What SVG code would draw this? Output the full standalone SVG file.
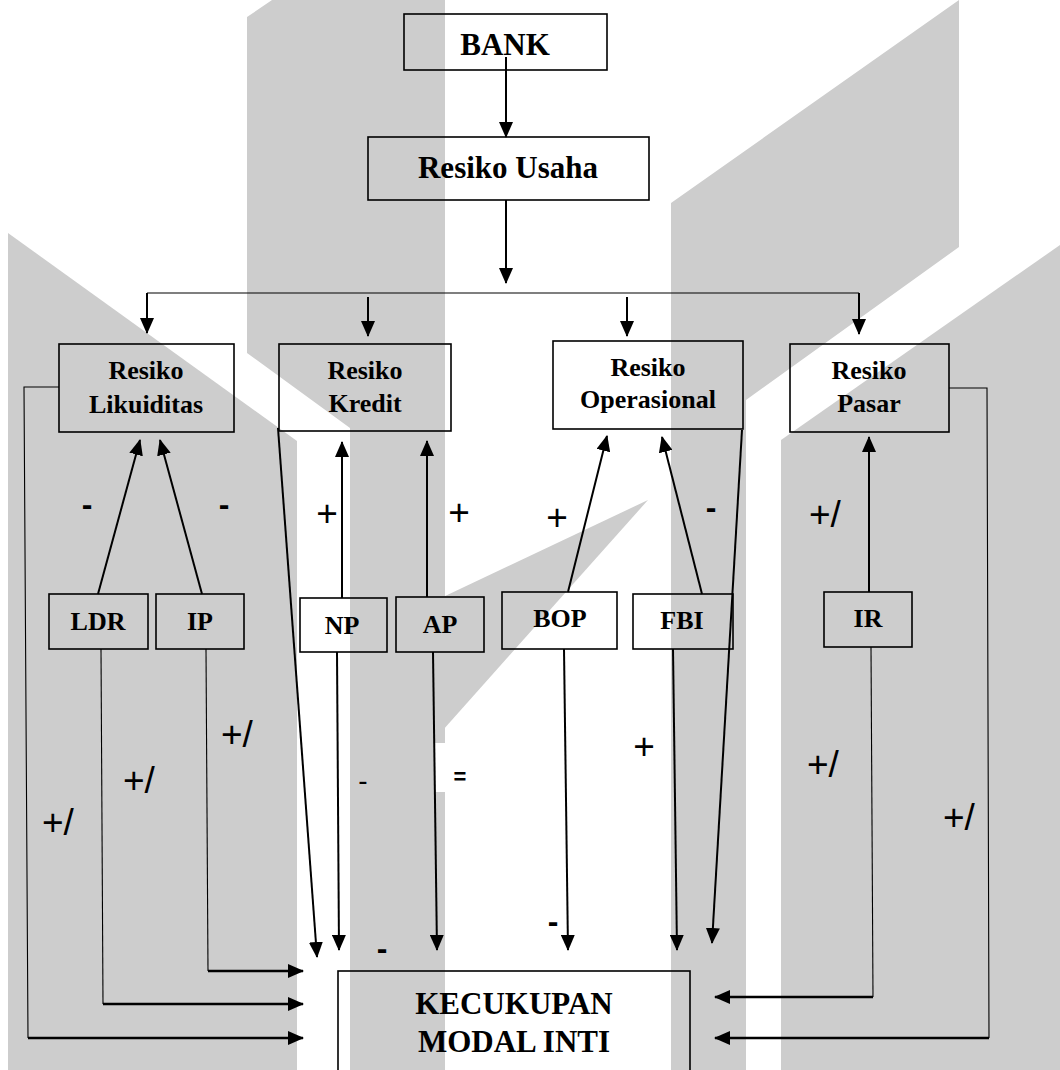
<svg xmlns="http://www.w3.org/2000/svg" width="1060" height="1070" viewBox="0 0 1060 1070">
<style>
.wm{fill:#cdcdcd;stroke:none}
.box{fill:none;stroke:#000;stroke-width:1.6}
.ln{fill:none;stroke:#000;stroke-width:2}
.thin{fill:none;stroke:#000;stroke-width:1.1}
.arr{fill:none;stroke:#000;stroke-width:2;marker-end:url(#ah)}
.harr{fill:none;stroke:#000;stroke-width:2.6;marker-end:url(#ah)}
.t1{font-family:"Liberation Serif","Times New Roman",serif;font-weight:bold;font-size:31px;text-anchor:middle;fill:#000}
.t2{font-family:"Liberation Serif","Times New Roman",serif;font-weight:bold;font-size:26px;text-anchor:middle;fill:#000}
.sg{font-family:"Liberation Sans",Arial,sans-serif;font-size:37px;fill:#000}
.sgm{font-family:"Liberation Sans",Arial,sans-serif;font-size:37px;fill:#000;text-anchor:middle}
.sb{font-family:"Liberation Sans",Arial,sans-serif;font-weight:bold;font-size:32px;fill:#000;text-anchor:middle}
</style>
<defs>
<marker id="ah" markerWidth="16" markerHeight="14" refX="15" refY="7" orient="auto" markerUnits="userSpaceOnUse">
<path d="M0,0 L16,7 L0,14 z" fill="#000"/>
</marker>
</defs>
<rect x="0" y="0" width="1060" height="1070" fill="#fff"/>
<g id="watermark">
<polygon class="wm" points="8,233 297,441 297,1070 8,1070"/>
<polygon class="wm" points="247,17 272,0 445,0 445,1070 350,1070 350,428 247,353"/>
<polygon class="wm" points="443,597 648,500 443,730"/>
<polygon class="wm" points="671,203 959,0 959,247 746,400 746,1070 671,1070"/>
<polygon class="wm" points="781,440 1060,245 1060,1070 781,1070"/>
<rect x="435" y="743" width="11" height="49" fill="#fff"/>
</g>
<g id="connectors">
<line class="arr" x1="506" y1="57" x2="506" y2="137"/>
<line class="arr" x1="506" y1="200" x2="506" y2="283"/>
<line class="thin" x1="147" y1="293" x2="859" y2="293"/>
<line class="arr" x1="147" y1="293" x2="147" y2="333"/>
<line class="arr" x1="368" y1="297" x2="368" y2="336"/>
<line class="arr" x1="627" y1="297" x2="627" y2="336"/>
<line class="arr" x1="859" y1="293" x2="859" y2="334"/>
<line class="arr" x1="98" y1="594" x2="140" y2="440"/>
<line class="arr" x1="202" y1="594" x2="160" y2="440"/>
<line class="arr" x1="342" y1="598" x2="342" y2="442"/>
<line class="arr" x1="427" y1="597" x2="427" y2="441"/>
<line class="arr" x1="568" y1="592" x2="607" y2="436"/>
<line class="arr" x1="702" y1="594" x2="662" y2="437"/>
<line class="arr" x1="869" y1="592" x2="869" y2="437"/>
<polyline class="thin" points="59,387 24,387 28,1038"/>
<line class="harr" x1="28" y1="1038" x2="303" y2="1038"/>
<line class="thin" x1="101" y1="649" x2="103" y2="1004"/>
<line class="harr" x1="103" y1="1004" x2="303" y2="1004"/>
<line class="thin" x1="206" y1="649" x2="208" y2="971"/>
<line class="harr" x1="208" y1="971" x2="303" y2="971"/>
<line class="arr" x1="278" y1="428" x2="317" y2="957"/>
<line class="arr" x1="337" y1="652" x2="339" y2="950"/>
<line class="arr" x1="433" y1="652" x2="437" y2="950"/>
<line class="arr" x1="564" y1="649" x2="568" y2="950"/>
<line class="arr" x1="673" y1="649" x2="677" y2="950"/>
<line class="arr" x1="742" y1="430" x2="712" y2="943"/>
<line class="thin" x1="871" y1="647" x2="873" y2="997"/>
<line class="harr" x1="873" y1="997" x2="715" y2="997"/>
<polyline class="thin" points="949,388 987,388 989,1038"/>
<line class="harr" x1="989" y1="1038" x2="715" y2="1038"/>
</g>
<g id="labels">
<text class="sb" x="87" y="515">-</text>
<text class="sb" x="224" y="515">-</text>
<text class="sgm" x="327" y="526">+</text>
<text class="sgm" x="459" y="525">+</text>
<text class="sgm" x="557" y="530">+</text>
<text class="sb" x="711" y="518">-</text>
<text class="sg" x="809" y="527">+/</text>
<text class="sg" x="221" y="747">+/</text>
<text class="sg" x="123" y="793">+/</text>
<text class="sg" x="42" y="835">+/</text>
<text class="sgm" x="363" y="790" style="font-size:28px">-</text>
<text class="sb" x="460" y="784" style="font-size:22px">=</text>
<text class="sb" x="382" y="959">-</text>
<text class="sb" x="553" y="932">-</text>
<text class="sgm" x="644" y="759">+</text>
<text class="sg" x="807" y="777">+/</text>
<text class="sg" x="943" y="830">+/</text>
</g>
<g id="bank"><rect class="box" x="404" y="14" width="203" height="56"/><text class="t1" x="505" y="55">BANK</text></g>
<g id="resiko-usaha"><rect class="box" x="368" y="137" width="281" height="63"/><text class="t1" x="508" y="178">Resiko Usaha</text></g>
<g id="resiko-likuiditas"><rect class="box" x="59" y="344" width="175" height="88"/><text class="t2" x="146" y="379">Resiko</text><text class="t2" x="146" y="413">Likuiditas</text></g>
<g id="resiko-kredit"><rect class="box" x="279" y="344" width="172" height="87"/><text class="t2" x="365" y="379">Resiko</text><text class="t2" x="365" y="412">Kredit</text></g>
<g id="resiko-operasional"><rect class="box" x="553" y="341" width="190" height="88"/><text class="t2" x="648" y="376">Resiko</text><text class="t2" x="648" y="408">Operasional</text></g>
<g id="resiko-pasar"><rect class="box" x="790" y="344" width="159" height="88"/><text class="t2" x="869" y="379">Resiko</text><text class="t2" x="869" y="412">Pasar</text></g>
<g id="ldr"><rect class="box" x="49" y="594" width="99" height="55"/><text class="t2" x="98" y="630">LDR</text></g>
<g id="ip"><rect class="box" x="156" y="594" width="88" height="55"/><text class="t2" x="200" y="630">IP</text></g>
<g id="np"><rect class="box" x="300" y="598" width="87" height="54"/><text class="t2" x="342" y="634">NP</text></g>
<g id="ap"><rect class="box" x="396" y="597" width="88" height="55"/><text class="t2" x="440" y="633">AP</text></g>
<g id="bop"><rect class="box" x="502" y="592" width="115" height="57"/><text class="t2" x="560" y="627">BOP</text></g>
<g id="fbi"><rect class="box" x="633" y="594" width="100" height="55"/><text class="t2" x="682" y="629">FBI</text></g>
<g id="ir"><rect class="box" x="824" y="592" width="88" height="55"/><text class="t2" x="868" y="627">IR</text></g>
<g id="kecukupan-modal-inti"><rect class="box" x="338" y="971" width="352" height="120"/><text class="t1" x="514" y="1014">KECUKUPAN</text><text class="t1" x="514" y="1052">MODAL INTI</text></g>
</svg>
